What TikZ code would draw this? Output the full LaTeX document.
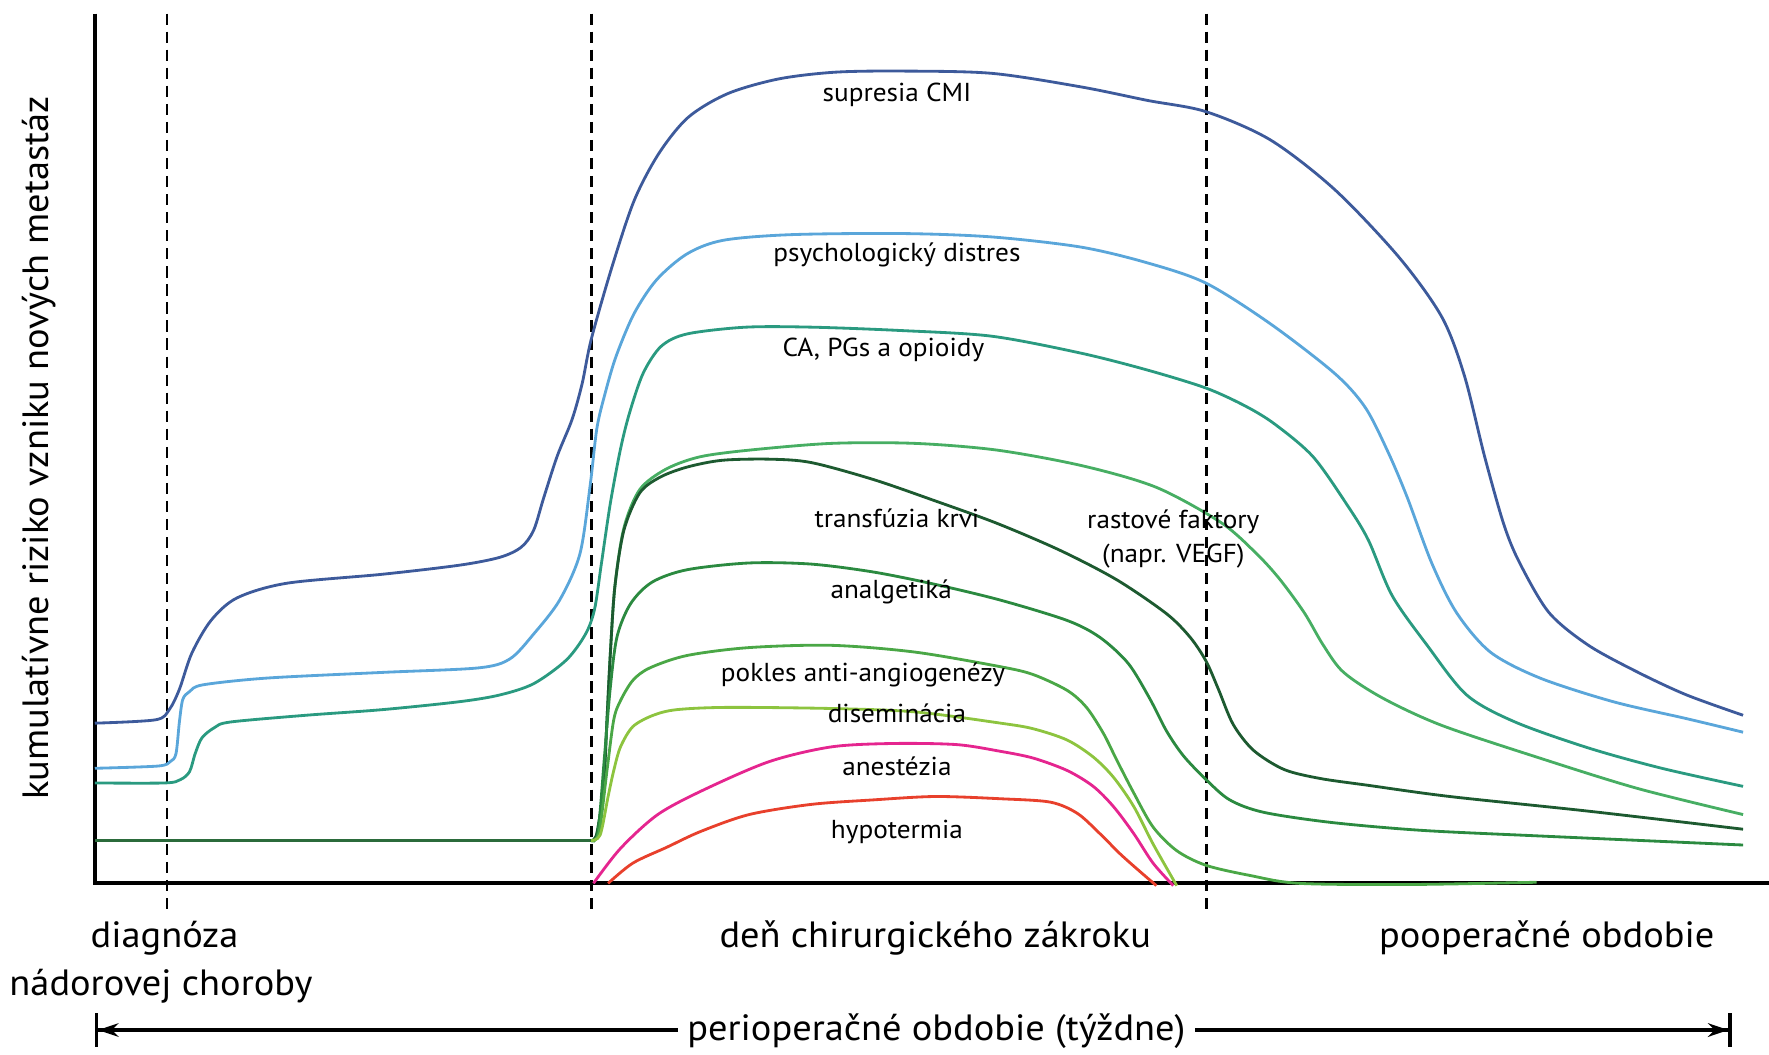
\documentclass[tikz,border=0pt]{standalone}
\usepackage{fontspec}
\setmainfont[FakeStretch=1.05]{PT Sans}
\usetikzlibrary{arrows.meta}
\definecolor{cmiblue}{HTML}{3D5A9B}
\definecolor{distblue}{HTML}{5AA6DA}
\definecolor{cateal}{HTML}{2A9A80}
\definecolor{rastgreen}{HTML}{47AE63}
\definecolor{transgreen}{HTML}{1D5A30}
\definecolor{analggreen}{HTML}{2B8A40}
\definecolor{poklgreen}{HTML}{4AA746}
\definecolor{disemgreen}{HTML}{8DC43F}
\definecolor{anestpink}{HTML}{E5258F}
\definecolor{hypored}{HTML}{E8402C}
\definecolor{basegreen}{HTML}{2B6B3B}
\begin{document}
\begin{tikzpicture}[x=0.5pt,y=-0.5pt,
  curve/.style={line width=1.25pt,smooth},
  period/.style={line width=1.3pt,dash pattern=on 5pt off 3pt},
  lbl/.style={font=\fontsize{11.5}{15}\selectfont,inner sep=1pt,align=center},
  big/.style={font=\fontsize{16.2}{19}\selectfont,inner sep=0pt}]
\useasboundingbox (0,0) rectangle (1568,935);
% axes
\coordinate (top) at (84,12);
\coordinate (origin) at (84,783);
\coordinate (right) at (1568,783);
\draw[line width=1.75pt] (top) -- (origin) -- (right);
% time points
\foreach \t in {148,524,1069}
  \draw[period] (\t,12) -- (\t,810);
% curves
\draw[curve,cmiblue] plot coordinates {(84,641) (138,638) (150,629) (159,611) (170,579) (187,550) (210,530) (254,517) (339,509) (407,501) (443,494) (462,485) (473,470) (482,441) (494,404) (507,372) (516,340) (524,301) (542,238) (562,178) (584,136) (610,104) (645,83) (690,70) (740,64) (799,63) (879,65) (958,77) (1017,89) (1069,99) (1126,124) (1183,168) (1240,228) (1278,281) (1298,333) (1316,405) (1333,465) (1347,499) (1373,543) (1408,572) (1452,596) (1495,616) (1545,634)};
\draw[curve,distblue] plot coordinates {(84,681) (140,679) (151,675) (156,668) (159,640) (162,620) (168,613) (180,607) (237,601) (339,596) (424,592) (452,584) (473,562) (496,532) (514,491) (523,431) (529,380) (536,350) (546,316) (562,278) (582,248) (609,225) (641,213) (701,208) (799,207) (879,210) (958,219) (1017,233) (1069,251) (1126,287) (1183,331) (1210,361) (1230,400) (1247,440) (1269,499) (1291,543) (1321,578) (1365,601) (1430,622) (1495,637) (1545,649)};
\draw[curve,cateal] plot coordinates {(84,694) (146,694) (160,691) (168,684) (173,668) (179,654) (190,645) (204,640) (271,634) (339,629) (407,622) (443,616) (473,606) (502,585) (519,562) (527,540) (533,500) (541,446) (550,398) (558,366) (570,331) (586,307) (609,296) (661,290) (720,290) (799,293) (879,298) (958,313) (1017,328) (1069,344) (1104,360) (1130,376) (1164,405) (1195,449) (1213,479) (1234,528) (1265,572) (1300,616) (1343,640) (1408,663) (1473,681) (1545,697)};
\draw[line width=1.25pt,basegreen] (84,745) -- (524,745);
\draw[curve,rastgreen] plot coordinates {(524,745) (529,739) (535,697) (538,638) (541,579) (545,520) (553,468) (567,434) (590,416) (620,405) (664,399) (737,393) (811,393) (884,399) (960,413) (1025,432) (1082,463) (1113,490) (1134,513) (1156,543) (1173,572) (1191,596) (1226,619) (1278,643) (1365,672) (1452,699) (1545,722)};
\draw[curve,transgreen] plot coordinates {(524,745) (529,739) (535,697) (538,638) (541,579) (545,520) (553,470) (567,437) (585,423) (609,414) (640,408) (682,407) (719,410) (774,425) (829,444) (884,464) (940,488) (990,514) (1034,544) (1055,565) (1069,586) (1080,611) (1093,642) (1111,665) (1138,682) (1170,690) (1212,696) (1285,706) (1408,719) (1545,735)};
\draw[curve,analggreen] plot coordinates {(524,745) (530,738) (536,668) (541,609) (547,564) (559,535) (578,516) (609,505) (664,499) (719,500) (774,507) (829,518) (887,532) (946,550) (975,565) (1000,588) (1019,619) (1034,648) (1049,670) (1069,691) (1090,709) (1120,720) (1180,729) (1260,736) (1365,741) (1545,749)};
\draw[curve,poklgreen] plot coordinates {(524,745) (531,738) (538,683) (544,638) (550,621) (561,603) (576,592) (609,581) (664,574) (737,572) (811,578) (887,591) (916,598) (946,612) (963,627) (978,650) (990,674) (1005,703) (1022,733) (1043,754) (1069,767) (1108,776) (1152,783) (1250,784) (1362,782)};
\draw[curve,disemgreen] plot coordinates {(524,745) (532,740) (539,706) (544,683) (550,662) (561,644) (579,634) (600,629) (645,627) (737,628) (811,631) (887,641) (916,646) (946,656) (969,671) (987,689) (1005,715) (1022,748) (1043,785)};
\draw[curve,anestpink] plot coordinates {(526,783) (550,752) (583,722) (624,700) (682,675) (737,662) (792,659) (848,660) (887,666) (916,672) (946,683) (969,697) (987,715) (1005,739) (1022,765) (1040,785)};
\draw[curve,hypored] plot coordinates {(539,783) (561,765) (591,751) (621,737) (664,722) (719,713) (774,709) (829,706) (887,708) (931,711) (955,721) (975,739) (993,757) (1011,773) (1025,785)};
% curve labels
\node[lbl] (cmi) at (795,84) {supresia CMI};
\node[lbl] (distres) at (795,226) {psychologický distres};
\node[lbl] (ca) at (783,310) {CA, PGs a opioidy};
\node[lbl] (transf) at (795,459) {transfúzia krvi};
\node[lbl] (rast) at (1040,478) {rastové faktory\\(napr. VEGF)};
\node[lbl] (analg) at (790,525) {analgetiká};
\node[lbl] (pokles) at (765,598) {pokles anti-angiogenézy};
\node[lbl] (disem) at (795,632) {diseminácia};
\node[lbl] (anest) at (795,679) {anestézia};
\node[lbl] (hypo) at (795,737) {hypotermia};
% axis labels
\node[big,rotate=90] (ylab) at (35,397) {kumulatívne riziko vzniku nových metastáz};
\node[big,anchor=base west] (diag) at (80,840) {diagnóza};
\node[big,anchor=base west] (nador) at (8,882) {nádorovej choroby};
\node[big,anchor=base] (den) at (829,840) {deň chirurgického zákroku};
\node[big,anchor=base] (poop) at (1371,840) {pooperačné obdobie};
\coordinate (pl) at (84,913);
\coordinate (pr) at (1535,913);
\draw[line width=1.5pt,{Bar[width=15pt]Stealth[length=9pt,width=6pt]}-{Stealth[length=9pt,width=6pt]Bar[width=15pt]}] (pl) -- (pr);
\node[big,anchor=base,fill=white,inner xsep=4pt,inner ysep=3pt] (peri) at (830,922) {perioperačné obdobie (týždne)};
\end{tikzpicture}
\end{document}
